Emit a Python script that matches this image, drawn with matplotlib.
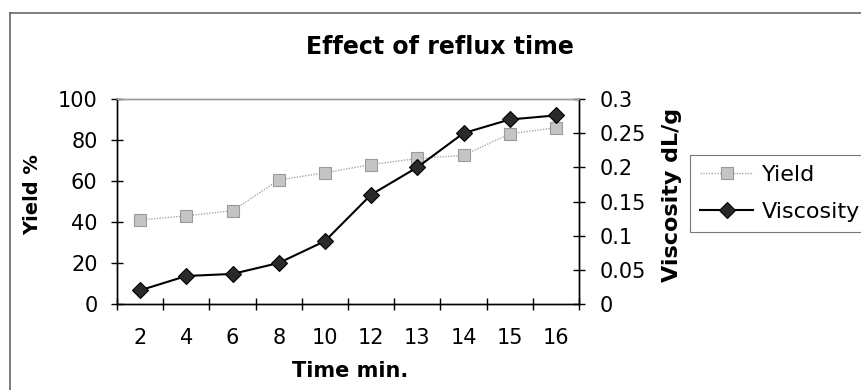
import matplotlib
matplotlib.use("Agg")
import matplotlib.pyplot as plt
from matplotlib.lines import Line2D
import numpy as np

# Reflux time (min) and measured results
times = ["2", "4", "6", "8", "10", "12", "13", "14", "15", "16"]
yield_pct = [41, 43, 45.5, 60.5, 64, 68, 71, 72.5, 83, 86]
viscosity = [0.02, 0.041, 0.044, 0.06, 0.092, 0.16, 0.2, 0.25, 0.27, 0.276]

plt.rcParams["font.family"] = ["DejaVu Sans"]

W, H = 861, 390
fig = plt.figure(figsize=(W / 100, H / 100), dpi=100)
fig.patch.set_facecolor("white")

# plot area in pixel coordinates
x0, x1, y_top, y_bot = 117, 579, 99, 304
ax = fig.add_axes([x0 / W, 1 - y_bot / H, (x1 - x0) / W, (y_bot - y_top) / H])
ax2 = ax.twinx()

pos = np.arange(len(times))

ax.plot(pos, yield_pct, color="#a8a8a8", lw=1.0, ls=(0, (1, 1)),
        marker="s", ms=8, mfc="#c4c4c4", mec="#9a9a9a", mew=0.8, zorder=3,
        label="Yield")
ax2.plot(pos, viscosity, color="black", lw=1.5, ls="-",
         marker="D", ms=8, mfc="#2a2a2a", mec="black", mew=0.8, zorder=4,
         label="Viscosity")

ax.set_xlim(-0.5, len(times) - 0.5)
ax.set_ylim(0, 100)
ax2.set_ylim(0, 0.3)

ax.set_xticks(pos)
ax.set_xticklabels(times)
ax.set_xticks(np.arange(len(times) + 1) - 0.5, minor=True)
ax.tick_params(axis="x", which="major", length=0, pad=17, labelsize=15)
ax.tick_params(axis="x", which="minor", length=9, direction="inout", width=1)

ax.set_yticks(np.arange(0, 101, 20))
ax.tick_params(axis="y", which="major", length=8, direction="inout",
               width=1, pad=10, labelsize=15)
ax2.set_yticks([0, 0.05, 0.1, 0.15, 0.2, 0.25, 0.3])
ax2.set_yticklabels(["0", "0.05", "0.1", "0.15", "0.2", "0.25", "0.3"])
ax2.tick_params(axis="y", which="major", length=8, direction="inout",
                width=1, pad=11, labelsize=15)

for a in (ax, ax2):
    a.spines["top"].set_color("#9a9a9a")
    a.spines["top"].set_linestyle((0, (1, 1)))
    a.spines["top"].set_linewidth(1.0)
    for s in ("left", "bottom", "right"):
        a.spines[s].set_color("black")
        a.spines[s].set_linewidth(1.0)

fig.text(350 / W, 1 - 371 / H, "Time min.", fontsize=15, fontweight="bold",
         ha="center", va="center")
fig.text(33 / W, 1 - 195 / H, "Yield %", rotation=90, fontsize=14,
         fontweight="bold", ha="center", va="center")
fig.text(672 / W, 1 - 195 / H, "Viscosity dL/g", rotation=90, fontsize=16,
         fontweight="bold", ha="center", va="center")
fig.text(440 / W, 1 - 47 / H, "Effect of reflux time", fontsize=17,
         fontweight="bold", ha="center", va="center")

# legend
handles = [ax.get_lines()[0], ax2.get_lines()[0]]
leg = fig.legend(handles, ["Yield", "Viscosity"], loc="upper left",
                 bbox_to_anchor=(690 / W, 1 - 155 / H), fontsize=16,
                 frameon=True, fancybox=False, handlelength=2.4,
                 handletextpad=0.4, labelspacing=0.75, borderpad=0.45,
                 borderaxespad=0)
leg.get_frame().set_edgecolor("#555555")
leg.get_frame().set_linewidth(0.8)

# chart area border (top and left edges)
fig.add_artist(Line2D([10 / W, 10 / W], [0, 1 - 13 / H], color="#666666",
                      lw=1.2, transform=fig.transFigure))
fig.add_artist(Line2D([10 / W, 1], [1 - 13 / H, 1 - 13 / H], color="#666666",
                      lw=1.2, transform=fig.transFigure))

fig.savefig("out.png", dpi=100)
